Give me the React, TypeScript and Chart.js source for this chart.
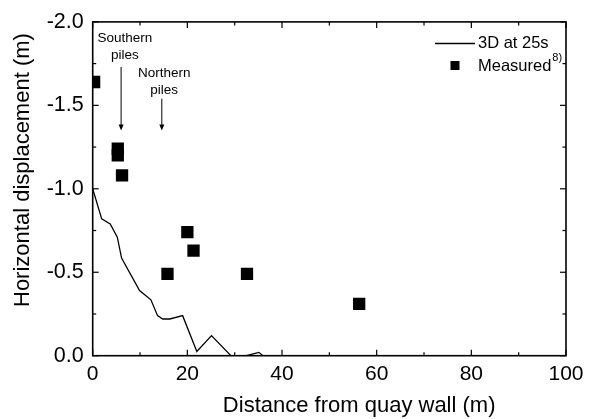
import React, { useEffect, useRef } from 'react';
import { Chart, registerables } from 'chart.js';

Chart.register(...registerables);

// 3D simulation at 25 s
const simDistance = [0, 1.9, 3.7, 5.2, 6.1, 9.9, 12.3, 13.7, 14.8, 16.3, 19.0, 22.0, 25.1, 29.2, 31.0, 32.5, 35.1, 36.0];
const simDisplacement = [-1.0, -0.82, -0.79, -0.71, -0.585, -0.39, -0.335, -0.24, -0.22, -0.22, -0.24, -0.025, -0.12, 0, 0.03, 0, -0.02, 0];

// Measured
const measDistance = [0.3, 5.3, 5.3, 6.2, 15.8, 20.0, 21.3, 32.6, 56.3];
const measDisplacement = [-1.64, -1.24, -1.2, -1.08, -0.49, -0.74, -0.63, -0.49, -0.31];

const xTicks = [0, 20, 40, 60, 80, 100];
const yTicks = [-2.0, -1.5, -1.0, -0.5, 0.0];
const xMinor = [10, 30, 50, 70, 90];
const yMinor = [-1.75, -1.25, -0.75, -0.25];

const seriesLabels = ['3D at 25s', 'Measured'];
const xTitle = 'Distance from quay wall (m)';
const yTitle = 'Horizontal displacement (m)';

const annotations = [
  { lines: ['Southern', 'piles'], textX: 6.8, textY: -1.9, arrowX: 6.0, arrowFrom: -1.73, arrowTo: -1.35 },
  { lines: ['Northern', 'piles'], textX: 15.1, textY: -1.69, arrowX: 14.6, arrowFrom: -1.54, arrowTo: -1.35 },
];

const FONT = "'Liberation Sans', Arial, Helvetica, sans-serif";

const decorPlugin = {
  id: 'decor',
  afterDraw(chart: any) {
    const { ctx, chartArea } = chart;
    const { left, right, top, bottom } = chartArea;
    const xs = chart.scales.x;
    const ys = chart.scales.y;
    ctx.save();
    ctx.strokeStyle = '#000';
    ctx.fillStyle = '#000';
    ctx.lineWidth = 1.6;
    ctx.strokeRect(left, top, right - left, bottom - top);

    ctx.lineWidth = 1.2;
    const tick = (x1: number, y1: number, x2: number, y2: number) => {
      ctx.beginPath();
      ctx.moveTo(x1, y1);
      ctx.lineTo(x2, y2);
      ctx.stroke();
    };
    xTicks.forEach((v) => {
      const p = xs.getPixelForValue(v);
      tick(p, bottom, p, bottom - 6);
      tick(p, top, p, top + 6);
    });
    xMinor.forEach((v) => {
      const p = xs.getPixelForValue(v);
      tick(p, bottom, p, bottom - 3.5);
      tick(p, top, p, top + 3.5);
    });
    yTicks.forEach((v) => {
      const p = ys.getPixelForValue(v);
      tick(left, p, left + 6, p);
      tick(right, p, right - 6, p);
    });
    yMinor.forEach((v) => {
      const p = ys.getPixelForValue(v);
      tick(left, p, left + 3.5, p);
      tick(right, p, right - 3.5, p);
    });

    // axis titles
    ctx.font = `22px ${FONT}`;
    ctx.textAlign = 'center';
    ctx.textBaseline = 'alphabetic';
    ctx.fillText(xTitle, left + (right - left) * 0.563, bottom + 56);

    ctx.save();
    ctx.translate(29, 307);
    ctx.rotate(-Math.PI / 2);
    ctx.textAlign = 'left';
    ctx.fillText(yTitle, 0, 0);
    ctx.restore();

    // annotations
    ctx.font = `13.5px ${FONT}`;
    ctx.textAlign = 'center';
    ctx.textBaseline = 'middle';
    annotations.forEach((a) => {
      const tx = xs.getPixelForValue(a.textX);
      const ty = ys.getPixelForValue(a.textY);
      a.lines.forEach((ln, i) => ctx.fillText(ln, tx, ty + i * 16.6));
      const ax = xs.getPixelForValue(a.arrowX);
      const a1 = ys.getPixelForValue(a.arrowFrom);
      const a2 = ys.getPixelForValue(a.arrowTo);
      ctx.lineWidth = 1;
      tick(ax, a1, ax, a2 - 5);
      ctx.beginPath();
      ctx.moveTo(ax - 2.5, a2 - 6);
      ctx.lineTo(ax + 2.5, a2 - 6);
      ctx.lineTo(ax, a2);
      ctx.closePath();
      ctx.fill();
    });

    // legend
    ctx.font = `16.5px ${FONT}`;
    ctx.textAlign = 'left';
    ctx.textBaseline = 'middle';
    ctx.lineWidth = 1.3;
    tick(435, 43.5, 475, 43.5);
    ctx.fillText(seriesLabels[0], 478, 43.5);
    ctx.fillRect(450.5, 61, 9, 9);
    ctx.fillText(seriesLabels[1], 478, 66);
    const w = ctx.measureText(seriesLabels[1]).width;
    ctx.font = `11px ${FONT}`;
    ctx.fillText('8)', 478 + w + 1, 58);

    ctx.restore();
  },
};

export default function App() {
  const ref = useRef<HTMLCanvasElement>(null);
  useEffect(() => {
    if (!ref.current) return;
    const chart = new Chart(ref.current, {
      type: 'scatter',
      data: {
        datasets: [
          {
            label: seriesLabels[0],
            data: simDistance.map((x, i) => ({ x, y: simDisplacement[i] })),
            showLine: true,
            borderColor: '#000',
            borderWidth: 1.3,
            pointRadius: 0,
            tension: 0,
            clip: 0,
          } as any,
          {
            label: seriesLabels[1],
            data: measDistance.map((x, i) => ({ x, y: measDisplacement[i] })),
            pointStyle: 'rect',
            pointRadius: 8.7,
            backgroundColor: '#000',
            borderColor: '#000',
            borderWidth: 0,
            clip: 0,
          } as any,
        ],
      },
      options: {
        responsive: false,
        animation: false,
        devicePixelRatio: 1,
        layout: { padding: { left: 0, right: 25, top: 19.7, bottom: 0 } },
        plugins: { legend: { display: false }, tooltip: { enabled: false } },
        scales: {
          x: {
            type: 'linear',
            min: 0,
            max: 100,
            afterBuildTicks: (s: any) => {
              s.ticks = xTicks.map((v) => ({ value: v }));
            },
            afterFit: (s: any) => {
              s.height = 63.3;
            },
            grid: { display: false, drawTicks: false },
            border: { display: false },
            ticks: {
              padding: 6,
              color: '#000',
              font: { family: FONT, size: 21 },
              maxRotation: 0,
              callback: (v: any) => String(v),
            },
          },
          y: {
            type: 'linear',
            min: -2,
            max: 0,
            reverse: true,
            afterBuildTicks: (s: any) => {
              s.ticks = yTicks.map((v) => ({ value: v }));
            },
            afterFit: (s: any) => {
              s.width = 92.7;
            },
            grid: { display: false, drawTicks: false },
            border: { display: false },
            ticks: {
              padding: 9,
              color: '#000',
              font: { family: FONT, size: 21.5 },
              callback: (v: any) => Number(v).toFixed(1),
            },
          },
        },
      },
      plugins: [decorPlugin],
    });
    return () => chart.destroy();
  }, []);

  return (
    <div style={{ position: 'fixed', left: 0, top: 0, width: 591, height: 419, background: '#fff' }}>
      <canvas ref={ref} width={591} height={419} style={{ display: 'block', width: 591, height: 419 }} />
    </div>
  );
}
